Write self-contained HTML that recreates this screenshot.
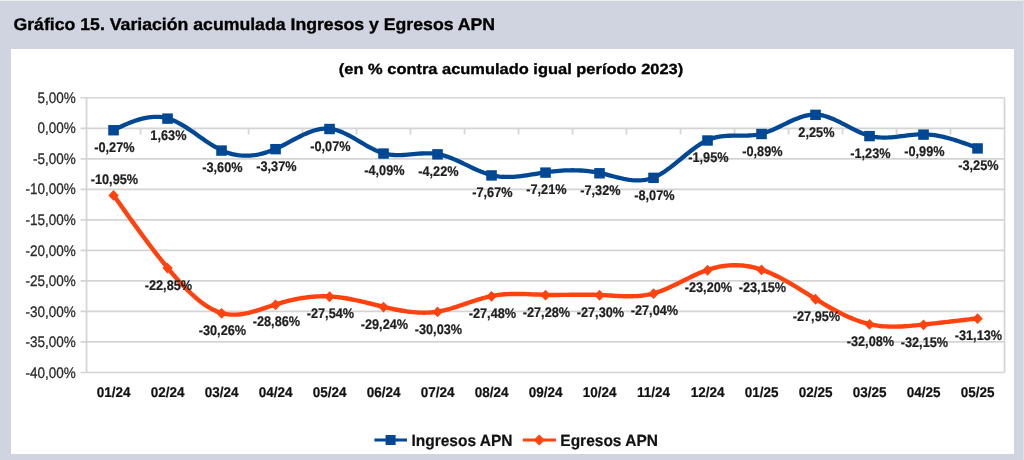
<!DOCTYPE html>
<html><head><meta charset="utf-8"><style>
html,body{margin:0;padding:0;}
body{width:1024px;height:460px;overflow:hidden;background:#cfd4e0;position:relative;font-family:"Liberation Sans",sans-serif;}
#top{position:absolute;left:0;top:0;width:1024px;height:1px;background:#ededee;}
#card{position:absolute;left:11px;top:49px;width:1003px;height:405px;background:#fff;}
svg{position:absolute;left:0;top:0;}
#wrap{position:absolute;left:0;top:0;width:1024px;height:460px;filter:blur(0.45px);}
text{text-rendering:geometricPrecision;}
#rs{position:absolute;left:1023px;top:0;width:1px;height:460px;background:#dde0e8;}
.t{font-weight:bold;fill:#000;stroke:#000;stroke-width:0.35px;}
.yl{font-size:13.5px;fill:#2a2a2a;stroke:#2a2a2a;stroke-width:0.25px;}
.xl{font-size:13.5px;font-weight:bold;fill:#111;stroke:#111;stroke-width:0.2px;}
.dl{font-size:12.75px;font-weight:bold;fill:#1e1e1e;stroke:#1e1e1e;stroke-width:0.2px;}
.lg{font-size:15.5px;font-weight:bold;fill:#111;stroke:#111;stroke-width:0.2px;}
</style></head><body>
<div id="wrap">
<div id="top"></div>
<div id="card"></div>
<div id="rs"></div>
<svg width="1024" height="460" viewBox="0 0 1024 460">
<text transform="translate(13.5,30.0) scale(1,0.96)" class="t" style="font-size:17.68px">Gráfico 15. Variación acumulada Ingresos y Egresos APN</text>
<text transform="translate(511,74.4) scale(1,0.9)" text-anchor="middle" class="t" style="font-size:16.45px">(en % contra acumulado igual período 2023)</text>
<line x1="80.54" y1="97.76" x2="1004.52" y2="97.76" stroke="#d4d4d4" stroke-width="1.7"/>
<text transform="translate(75.7,102.66) scale(1,1.13)" text-anchor="end" class="yl">5,00%</text>
<line x1="80.54" y1="128.29" x2="1004.52" y2="128.29" stroke="#d4d4d4" stroke-width="1.7"/>
<text transform="translate(75.7,133.26) scale(1,1.13)" text-anchor="end" class="yl">0,00%</text>
<line x1="80.54" y1="158.81" x2="1004.52" y2="158.81" stroke="#d4d4d4" stroke-width="1.7"/>
<text transform="translate(75.7,163.86) scale(1,1.13)" text-anchor="end" class="yl">-5,00%</text>
<line x1="80.54" y1="189.34" x2="1004.52" y2="189.34" stroke="#d4d4d4" stroke-width="1.7"/>
<text transform="translate(75.7,194.46) scale(1,1.13)" text-anchor="end" class="yl">-10,00%</text>
<line x1="80.54" y1="219.87" x2="1004.52" y2="219.87" stroke="#d4d4d4" stroke-width="1.7"/>
<text transform="translate(75.7,225.06) scale(1,1.13)" text-anchor="end" class="yl">-15,00%</text>
<line x1="80.54" y1="250.39" x2="1004.52" y2="250.39" stroke="#d4d4d4" stroke-width="1.7"/>
<text transform="translate(75.7,255.66) scale(1,1.13)" text-anchor="end" class="yl">-20,00%</text>
<line x1="80.54" y1="280.92" x2="1004.52" y2="280.92" stroke="#d4d4d4" stroke-width="1.7"/>
<text transform="translate(75.7,286.26) scale(1,1.13)" text-anchor="end" class="yl">-25,00%</text>
<line x1="80.54" y1="311.45" x2="1004.52" y2="311.45" stroke="#d4d4d4" stroke-width="1.7"/>
<text transform="translate(75.7,316.86) scale(1,1.13)" text-anchor="end" class="yl">-30,00%</text>
<line x1="80.54" y1="341.97" x2="1004.52" y2="341.97" stroke="#d4d4d4" stroke-width="1.7"/>
<text transform="translate(75.7,347.46) scale(1,1.13)" text-anchor="end" class="yl">-35,00%</text>
<line x1="80.54" y1="372.50" x2="1004.52" y2="372.50" stroke="#d4d4d4" stroke-width="1.7"/>
<text transform="translate(75.7,378.06) scale(1,1.13)" text-anchor="end" class="yl">-40,00%</text>
<line x1="1004.52" y1="97.76" x2="1004.52" y2="372.50" stroke="#d4d4d4" stroke-width="1.7"/>
<line x1="86.54" y1="97.76" x2="86.54" y2="372.50" stroke="#d4d4d4" stroke-width="1.7"/>
<line x1="140.54" y1="128.29" x2="140.54" y2="134.49" stroke="#d4d4d4" stroke-width="1.7"/>
<line x1="194.54" y1="128.29" x2="194.54" y2="134.49" stroke="#d4d4d4" stroke-width="1.7"/>
<line x1="248.54" y1="128.29" x2="248.54" y2="134.49" stroke="#d4d4d4" stroke-width="1.7"/>
<line x1="302.54" y1="128.29" x2="302.54" y2="134.49" stroke="#d4d4d4" stroke-width="1.7"/>
<line x1="356.53" y1="128.29" x2="356.53" y2="134.49" stroke="#d4d4d4" stroke-width="1.7"/>
<line x1="410.53" y1="128.29" x2="410.53" y2="134.49" stroke="#d4d4d4" stroke-width="1.7"/>
<line x1="464.53" y1="128.29" x2="464.53" y2="134.49" stroke="#d4d4d4" stroke-width="1.7"/>
<line x1="518.53" y1="128.29" x2="518.53" y2="134.49" stroke="#d4d4d4" stroke-width="1.7"/>
<line x1="572.53" y1="128.29" x2="572.53" y2="134.49" stroke="#d4d4d4" stroke-width="1.7"/>
<line x1="626.53" y1="128.29" x2="626.53" y2="134.49" stroke="#d4d4d4" stroke-width="1.7"/>
<line x1="680.53" y1="128.29" x2="680.53" y2="134.49" stroke="#d4d4d4" stroke-width="1.7"/>
<line x1="734.53" y1="128.29" x2="734.53" y2="134.49" stroke="#d4d4d4" stroke-width="1.7"/>
<line x1="788.52" y1="128.29" x2="788.52" y2="134.49" stroke="#d4d4d4" stroke-width="1.7"/>
<line x1="842.52" y1="128.29" x2="842.52" y2="134.49" stroke="#d4d4d4" stroke-width="1.7"/>
<line x1="896.52" y1="128.29" x2="896.52" y2="134.49" stroke="#d4d4d4" stroke-width="1.7"/>
<line x1="950.52" y1="128.29" x2="950.52" y2="134.49" stroke="#d4d4d4" stroke-width="1.7"/>
<text transform="translate(113.54,396.9) scale(1,1.04)" text-anchor="middle" class="xl">01/24</text>
<text transform="translate(167.54,396.9) scale(1,1.04)" text-anchor="middle" class="xl">02/24</text>
<text transform="translate(221.54,396.9) scale(1,1.04)" text-anchor="middle" class="xl">03/24</text>
<text transform="translate(275.54,396.9) scale(1,1.04)" text-anchor="middle" class="xl">04/24</text>
<text transform="translate(329.53,396.9) scale(1,1.04)" text-anchor="middle" class="xl">05/24</text>
<text transform="translate(383.53,396.9) scale(1,1.04)" text-anchor="middle" class="xl">06/24</text>
<text transform="translate(437.53,396.9) scale(1,1.04)" text-anchor="middle" class="xl">07/24</text>
<text transform="translate(491.53,396.9) scale(1,1.04)" text-anchor="middle" class="xl">08/24</text>
<text transform="translate(545.53,396.9) scale(1,1.04)" text-anchor="middle" class="xl">09/24</text>
<text transform="translate(599.53,396.9) scale(1,1.04)" text-anchor="middle" class="xl">10/24</text>
<text transform="translate(653.53,396.9) scale(1,1.04)" text-anchor="middle" class="xl">11/24</text>
<text transform="translate(707.53,396.9) scale(1,1.04)" text-anchor="middle" class="xl">12/24</text>
<text transform="translate(761.53,396.9) scale(1,1.04)" text-anchor="middle" class="xl">01/25</text>
<text transform="translate(815.52,396.9) scale(1,1.04)" text-anchor="middle" class="xl">02/25</text>
<text transform="translate(869.52,396.9) scale(1,1.04)" text-anchor="middle" class="xl">03/25</text>
<text transform="translate(923.52,396.9) scale(1,1.04)" text-anchor="middle" class="xl">04/25</text>
<text transform="translate(977.52,396.9) scale(1,1.04)" text-anchor="middle" class="xl">05/25</text>
<path d="M113.54,195.14 L116.24,198.95 L118.94,202.76 L121.64,206.56 L124.34,210.36 L127.04,214.14 L129.74,217.91 L132.44,221.66 L135.14,225.40 L137.84,229.11 L140.54,232.80 L143.24,236.47 L145.94,240.10 L148.64,243.70 L151.34,247.27 L154.04,250.80 L156.74,254.29 L159.44,257.74 L162.14,261.14 L164.84,264.49 L167.54,267.79 L170.24,271.04 L172.94,274.23 L175.64,277.35 L178.34,280.39 L181.04,283.35 L183.74,286.23 L186.44,289.00 L189.14,291.68 L191.84,294.24 L194.54,296.68 L197.24,299.00 L199.94,301.18 L202.64,303.23 L205.34,305.13 L208.04,306.87 L210.74,308.46 L213.44,309.87 L216.14,311.11 L218.84,312.17 L221.54,313.03 L224.24,313.71 L226.94,314.19 L229.64,314.51 L232.34,314.66 L235.04,314.66 L237.74,314.52 L240.44,314.25 L243.14,313.87 L245.84,313.39 L248.54,312.81 L251.24,312.15 L253.94,311.42 L256.64,310.63 L259.34,309.80 L262.04,308.93 L264.74,308.04 L267.44,307.14 L270.14,306.24 L272.84,305.35 L275.54,304.49 L278.24,303.65 L280.94,302.86 L283.64,302.10 L286.34,301.38 L289.04,300.71 L291.74,300.07 L294.44,299.48 L297.14,298.94 L299.84,298.44 L302.54,297.99 L305.24,297.58 L307.94,297.23 L310.64,296.93 L313.34,296.69 L316.04,296.50 L318.73,296.37 L321.43,296.29 L324.13,296.28 L326.83,296.32 L329.53,296.43 L332.23,296.60 L334.93,296.83 L337.63,297.11 L340.33,297.45 L343.03,297.84 L345.73,298.27 L348.43,298.74 L351.13,299.25 L353.83,299.79 L356.53,300.36 L359.23,300.95 L361.93,301.57 L364.63,302.20 L367.33,302.85 L370.03,303.51 L372.73,304.17 L375.43,304.84 L378.13,305.50 L380.83,306.16 L383.53,306.81 L386.23,307.44 L388.93,308.06 L391.63,308.66 L394.33,309.23 L397.03,309.77 L399.73,310.28 L402.43,310.75 L405.13,311.18 L407.83,311.56 L410.53,311.90 L413.23,312.18 L415.93,312.40 L418.63,312.56 L421.33,312.66 L424.03,312.68 L426.73,312.64 L429.43,312.51 L432.13,312.31 L434.83,312.01 L437.53,311.63 L440.23,311.16 L442.93,310.60 L445.63,309.96 L448.33,309.26 L451.03,308.50 L453.73,307.68 L456.43,306.83 L459.13,305.95 L461.83,305.04 L464.53,304.12 L467.23,303.19 L469.93,302.27 L472.63,301.36 L475.33,300.47 L478.03,299.61 L480.73,298.79 L483.43,298.01 L486.13,297.29 L488.83,296.64 L491.53,296.06 L494.23,295.56 L496.93,295.14 L499.63,294.79 L502.33,294.51 L505.03,294.29 L507.73,294.13 L510.43,294.02 L513.13,293.95 L515.83,293.93 L518.53,293.94 L521.23,293.98 L523.93,294.05 L526.63,294.13 L529.33,294.23 L532.03,294.34 L534.73,294.45 L537.43,294.57 L540.13,294.67 L542.83,294.76 L545.53,294.84 L548.23,294.89 L550.93,294.93 L553.63,294.95 L556.33,294.95 L559.03,294.94 L561.73,294.92 L564.43,294.89 L567.13,294.86 L569.83,294.82 L572.53,294.78 L575.23,294.75 L577.93,294.72 L580.63,294.70 L583.33,294.69 L586.03,294.69 L588.73,294.70 L591.43,294.74 L594.13,294.79 L596.83,294.86 L599.53,294.96 L602.23,295.09 L604.93,295.23 L607.63,295.39 L610.33,295.55 L613.03,295.72 L615.73,295.87 L618.43,296.01 L621.13,296.13 L623.83,296.23 L626.53,296.28 L629.23,296.30 L631.93,296.26 L634.63,296.17 L637.33,296.01 L640.03,295.79 L642.73,295.49 L645.43,295.10 L648.13,294.63 L650.83,294.05 L653.53,293.37 L656.23,292.59 L658.93,291.70 L661.63,290.72 L664.33,289.66 L667.03,288.52 L669.73,287.33 L672.43,286.09 L675.13,284.80 L677.83,283.49 L680.53,282.15 L683.23,280.81 L685.93,279.46 L688.63,278.13 L691.33,276.82 L694.03,275.53 L696.73,274.29 L699.43,273.10 L702.13,271.97 L704.83,270.91 L707.53,269.93 L710.23,269.04 L712.93,268.25 L715.63,267.54 L718.33,266.93 L721.03,266.41 L723.73,265.98 L726.43,265.64 L729.13,265.40 L731.83,265.24 L734.53,265.18 L737.23,265.21 L739.93,265.33 L742.63,265.55 L745.33,265.85 L748.03,266.25 L750.73,266.74 L753.43,267.33 L756.13,268.00 L758.83,268.77 L761.53,269.63 L764.23,270.58 L766.93,271.61 L769.63,272.73 L772.33,273.92 L775.03,275.19 L777.72,276.52 L780.42,277.91 L783.12,279.35 L785.82,280.85 L788.52,282.38 L791.22,283.96 L793.92,285.56 L796.62,287.19 L799.32,288.85 L802.02,290.52 L804.72,292.20 L807.42,293.89 L810.12,295.58 L812.82,297.26 L815.52,298.93 L818.22,300.59 L820.92,302.22 L823.62,303.83 L826.32,305.42 L829.02,306.97 L831.72,308.49 L834.42,309.97 L837.12,311.41 L839.82,312.80 L842.52,314.15 L845.22,315.44 L847.92,316.68 L850.62,317.86 L853.32,318.98 L856.02,320.03 L858.72,321.00 L861.42,321.91 L864.12,322.74 L866.82,323.48 L869.52,324.15 L872.22,324.72 L874.92,325.21 L877.62,325.62 L880.32,325.96 L883.02,326.23 L885.72,326.42 L888.42,326.56 L891.12,326.64 L893.82,326.66 L896.52,326.64 L899.22,326.56 L901.92,326.45 L904.62,326.30 L907.32,326.12 L910.02,325.91 L912.72,325.67 L915.42,325.42 L918.12,325.15 L920.82,324.86 L923.52,324.57 L926.22,324.28 L928.92,323.98 L931.62,323.68 L934.32,323.38 L937.02,323.08 L939.72,322.77 L942.42,322.47 L945.12,322.16 L947.82,321.85 L950.52,321.53 L953.22,321.22 L955.92,320.90 L958.62,320.59 L961.32,320.27 L964.02,319.95 L966.72,319.63 L969.42,319.31 L972.12,318.99 L974.82,318.67 L977.52,318.35" fill="none" stroke="#ff420e" stroke-width="4.4" stroke-linejoin="round"/>
<path d="M113.54,129.94 L116.24,128.69 L118.94,127.45 L121.64,126.23 L124.34,125.04 L127.04,123.89 L129.74,122.79 L132.44,121.75 L135.14,120.78 L137.84,119.90 L140.54,119.10 L143.24,118.41 L145.94,117.82 L148.64,117.36 L151.34,117.02 L154.04,116.83 L156.74,116.79 L159.44,116.91 L162.14,117.20 L164.84,117.67 L167.54,118.33 L170.24,119.20 L172.94,120.24 L175.64,121.45 L178.34,122.81 L181.04,124.30 L183.74,125.90 L186.44,127.59 L189.14,129.37 L191.84,131.20 L194.54,133.08 L197.24,134.98 L199.94,136.89 L202.64,138.78 L205.34,140.65 L208.04,142.47 L210.74,144.23 L213.44,145.91 L216.14,147.48 L218.84,148.94 L221.54,150.27 L224.24,151.44 L226.94,152.47 L229.64,153.35 L232.34,154.08 L235.04,154.68 L237.74,155.14 L240.44,155.46 L243.14,155.66 L245.84,155.72 L248.54,155.66 L251.24,155.48 L253.94,155.18 L256.64,154.77 L259.34,154.24 L262.04,153.60 L264.74,152.85 L267.44,152.00 L270.14,151.05 L272.84,150.00 L275.54,148.86 L278.24,147.63 L280.94,146.32 L283.64,144.96 L286.34,143.55 L289.04,142.12 L291.74,140.67 L294.44,139.24 L297.14,137.83 L299.84,136.46 L302.54,135.14 L305.24,133.90 L307.94,132.75 L310.64,131.70 L313.34,130.77 L316.04,129.99 L318.73,129.36 L321.43,128.90 L324.13,128.63 L326.83,128.56 L329.53,128.71 L332.23,129.10 L334.93,129.70 L337.63,130.50 L340.33,131.47 L343.03,132.59 L345.73,133.84 L348.43,135.21 L351.13,136.66 L353.83,138.18 L356.53,139.74 L359.23,141.33 L361.93,142.93 L364.63,144.50 L367.33,146.04 L370.03,147.52 L372.73,148.91 L375.43,150.21 L378.13,151.38 L380.83,152.40 L383.53,153.26 L386.23,153.93 L388.93,154.44 L391.63,154.79 L394.33,155.01 L397.03,155.11 L399.73,155.10 L402.43,155.02 L405.13,154.86 L407.83,154.66 L410.53,154.42 L413.23,154.17 L415.93,153.92 L418.63,153.68 L421.33,153.49 L424.03,153.35 L426.73,153.28 L429.43,153.30 L432.13,153.42 L434.83,153.67 L437.53,154.05 L440.23,154.59 L442.93,155.27 L445.63,156.08 L448.33,157.00 L451.03,158.02 L453.73,159.12 L456.43,160.29 L459.13,161.52 L461.83,162.78 L464.53,164.07 L467.23,165.37 L469.93,166.67 L472.63,167.95 L475.33,169.19 L478.03,170.38 L480.73,171.51 L483.43,172.57 L486.13,173.53 L488.83,174.38 L491.53,175.11 L494.23,175.71 L496.93,176.18 L499.63,176.54 L502.33,176.77 L505.03,176.91 L507.73,176.95 L510.43,176.91 L513.13,176.79 L515.83,176.59 L518.53,176.34 L521.23,176.04 L523.93,175.69 L526.63,175.30 L529.33,174.89 L532.03,174.46 L534.73,174.01 L537.43,173.57 L540.13,173.13 L542.83,172.71 L545.53,172.31 L548.23,171.94 L550.93,171.60 L553.63,171.29 L556.33,171.03 L559.03,170.80 L561.73,170.61 L564.43,170.46 L567.13,170.35 L569.83,170.29 L572.53,170.27 L575.23,170.30 L577.93,170.38 L580.63,170.51 L583.33,170.70 L586.03,170.93 L588.73,171.23 L591.43,171.57 L594.13,171.98 L596.83,172.45 L599.53,172.98 L602.23,173.57 L604.93,174.21 L607.63,174.88 L610.33,175.57 L613.03,176.27 L615.73,176.96 L618.43,177.63 L621.13,178.25 L623.83,178.83 L626.53,179.34 L629.23,179.76 L631.93,180.10 L634.63,180.32 L637.33,180.41 L640.03,180.37 L642.73,180.17 L645.43,179.81 L648.13,179.26 L650.83,178.51 L653.53,177.56 L656.23,176.38 L658.93,175.00 L661.63,173.43 L664.33,171.71 L667.03,169.85 L669.73,167.87 L672.43,165.80 L675.13,163.65 L677.83,161.45 L680.53,159.22 L683.23,156.99 L685.93,154.77 L688.63,152.59 L691.33,150.47 L694.03,148.43 L696.73,146.49 L699.43,144.67 L702.13,143.00 L704.83,141.50 L707.53,140.19 L710.23,139.09 L712.93,138.18 L715.63,137.44 L718.33,136.86 L721.03,136.42 L723.73,136.10 L726.43,135.87 L729.13,135.73 L731.83,135.66 L734.53,135.63 L737.23,135.62 L739.93,135.63 L742.63,135.62 L745.33,135.59 L748.03,135.50 L750.73,135.35 L753.43,135.12 L756.13,134.78 L758.83,134.32 L761.53,133.72 L764.23,132.97 L766.93,132.08 L769.63,131.06 L772.33,129.95 L775.03,128.76 L777.72,127.51 L780.42,126.21 L783.12,124.89 L785.82,123.58 L788.52,122.28 L791.22,121.01 L793.92,119.80 L796.62,118.67 L799.32,117.64 L802.02,116.72 L804.72,115.94 L807.42,115.31 L810.12,114.86 L812.82,114.60 L815.52,114.55 L818.22,114.73 L820.92,115.12 L823.62,115.71 L826.32,116.47 L829.02,117.39 L831.72,118.43 L834.42,119.59 L837.12,120.84 L839.82,122.17 L842.52,123.55 L845.22,124.96 L847.92,126.38 L850.62,127.79 L853.32,129.18 L856.02,130.52 L858.72,131.79 L861.42,132.98 L864.12,134.05 L866.82,135.00 L869.52,135.80 L872.22,136.43 L874.92,136.91 L877.62,137.25 L880.32,137.46 L883.02,137.56 L885.72,137.56 L888.42,137.46 L891.12,137.30 L893.82,137.07 L896.52,136.79 L899.22,136.48 L901.92,136.15 L904.62,135.81 L907.32,135.47 L910.02,135.16 L912.72,134.87 L915.42,134.63 L918.12,134.46 L920.82,134.35 L923.52,134.33 L926.22,134.41 L928.92,134.58 L931.62,134.84 L934.32,135.18 L937.02,135.61 L939.72,136.11 L942.42,136.67 L945.12,137.31 L947.82,138.00 L950.52,138.75 L953.22,139.54 L955.92,140.38 L958.62,141.27 L961.32,142.18 L964.02,143.13 L966.72,144.10 L969.42,145.09 L972.12,146.09 L974.82,147.11 L977.52,148.13" fill="none" stroke="#004894" stroke-width="4.3" stroke-linejoin="round"/>
<rect x="108.24" y="125.04" width="10.6" height="10.4" fill="#004894"/>
<path d="M113.54,190.04 L118.74,195.44 L113.54,200.84 L108.34,195.44Z" fill="#ff420e"/>
<rect x="162.24" y="113.43" width="10.6" height="10.4" fill="#004894"/>
<path d="M167.54,262.69 L172.74,268.09 L167.54,273.49 L162.34,268.09Z" fill="#ff420e"/>
<rect x="216.24" y="145.37" width="10.6" height="10.4" fill="#004894"/>
<path d="M221.54,307.93 L226.74,313.33 L221.54,318.73 L216.34,313.33Z" fill="#ff420e"/>
<rect x="270.24" y="143.96" width="10.6" height="10.4" fill="#004894"/>
<path d="M275.54,299.39 L280.74,304.79 L275.54,310.19 L270.34,304.79Z" fill="#ff420e"/>
<rect x="324.23" y="123.81" width="10.6" height="10.4" fill="#004894"/>
<path d="M329.53,291.33 L334.73,296.73 L329.53,302.13 L324.33,296.73Z" fill="#ff420e"/>
<rect x="378.23" y="148.36" width="10.6" height="10.4" fill="#004894"/>
<path d="M383.53,301.71 L388.73,307.11 L383.53,312.51 L378.33,307.11Z" fill="#ff420e"/>
<rect x="432.23" y="149.15" width="10.6" height="10.4" fill="#004894"/>
<path d="M437.53,306.53 L442.73,311.93 L437.53,317.33 L432.33,311.93Z" fill="#ff420e"/>
<rect x="486.23" y="170.21" width="10.6" height="10.4" fill="#004894"/>
<path d="M491.53,290.96 L496.73,296.36 L491.53,301.76 L486.33,296.36Z" fill="#ff420e"/>
<rect x="540.23" y="167.41" width="10.6" height="10.4" fill="#004894"/>
<path d="M545.53,289.74 L550.73,295.14 L545.53,300.54 L540.33,295.14Z" fill="#ff420e"/>
<rect x="594.23" y="168.08" width="10.6" height="10.4" fill="#004894"/>
<path d="M599.53,289.86 L604.73,295.26 L599.53,300.66 L594.33,295.26Z" fill="#ff420e"/>
<rect x="648.23" y="172.66" width="10.6" height="10.4" fill="#004894"/>
<path d="M653.53,288.27 L658.73,293.67 L653.53,299.07 L648.33,293.67Z" fill="#ff420e"/>
<rect x="702.23" y="135.29" width="10.6" height="10.4" fill="#004894"/>
<path d="M707.53,264.83 L712.73,270.23 L707.53,275.63 L702.33,270.23Z" fill="#ff420e"/>
<rect x="756.23" y="128.82" width="10.6" height="10.4" fill="#004894"/>
<path d="M761.53,264.53 L766.73,269.93 L761.53,275.33 L756.33,269.93Z" fill="#ff420e"/>
<rect x="810.22" y="109.65" width="10.6" height="10.4" fill="#004894"/>
<path d="M815.52,293.83 L820.72,299.23 L815.52,304.63 L810.32,299.23Z" fill="#ff420e"/>
<rect x="864.22" y="130.90" width="10.6" height="10.4" fill="#004894"/>
<path d="M869.52,319.05 L874.72,324.45 L869.52,329.85 L864.32,324.45Z" fill="#ff420e"/>
<rect x="918.22" y="129.43" width="10.6" height="10.4" fill="#004894"/>
<path d="M923.52,319.47 L928.72,324.87 L923.52,330.27 L918.32,324.87Z" fill="#ff420e"/>
<rect x="972.22" y="143.23" width="10.6" height="10.4" fill="#004894"/>
<path d="M977.52,313.25 L982.72,318.65 L977.52,324.05 L972.32,318.65Z" fill="#ff420e"/>
<text transform="translate(114.44,151.94) scale(1,1.09)" text-anchor="middle" class="dl">-0,27%</text>
<text transform="translate(114.44,183.64) scale(1,1.09)" text-anchor="middle" class="dl">-10,95%</text>
<text transform="translate(168.44,140.33) scale(1,1.09)" text-anchor="middle" class="dl">1,63%</text>
<text transform="translate(168.44,289.79) scale(1,1.09)" text-anchor="middle" class="dl">-22,85%</text>
<text transform="translate(222.44,172.27) scale(1,1.09)" text-anchor="middle" class="dl">-3,60%</text>
<text transform="translate(222.44,335.03) scale(1,1.09)" text-anchor="middle" class="dl">-30,26%</text>
<text transform="translate(276.44,170.86) scale(1,1.09)" text-anchor="middle" class="dl">-3,37%</text>
<text transform="translate(276.44,326.49) scale(1,1.09)" text-anchor="middle" class="dl">-28,86%</text>
<text transform="translate(330.43,150.71) scale(1,1.09)" text-anchor="middle" class="dl">-0,07%</text>
<text transform="translate(330.43,318.43) scale(1,1.09)" text-anchor="middle" class="dl">-27,54%</text>
<text transform="translate(384.43,175.26) scale(1,1.09)" text-anchor="middle" class="dl">-4,09%</text>
<text transform="translate(384.43,328.81) scale(1,1.09)" text-anchor="middle" class="dl">-29,24%</text>
<text transform="translate(438.43,176.05) scale(1,1.09)" text-anchor="middle" class="dl">-4,22%</text>
<text transform="translate(438.43,333.63) scale(1,1.09)" text-anchor="middle" class="dl">-30,03%</text>
<text transform="translate(492.43,197.11) scale(1,1.09)" text-anchor="middle" class="dl">-7,67%</text>
<text transform="translate(492.43,318.06) scale(1,1.09)" text-anchor="middle" class="dl">-27,48%</text>
<text transform="translate(546.43,194.31) scale(1,1.09)" text-anchor="middle" class="dl">-7,21%</text>
<text transform="translate(546.43,316.84) scale(1,1.09)" text-anchor="middle" class="dl">-27,28%</text>
<text transform="translate(600.43,194.98) scale(1,1.09)" text-anchor="middle" class="dl">-7,32%</text>
<text transform="translate(600.43,316.96) scale(1,1.09)" text-anchor="middle" class="dl">-27,30%</text>
<text transform="translate(654.43,199.56) scale(1,1.09)" text-anchor="middle" class="dl">-8,07%</text>
<text transform="translate(654.43,315.37) scale(1,1.09)" text-anchor="middle" class="dl">-27,04%</text>
<text transform="translate(708.43,162.19) scale(1,1.09)" text-anchor="middle" class="dl">-1,95%</text>
<text transform="translate(708.43,291.93) scale(1,1.09)" text-anchor="middle" class="dl">-23,20%</text>
<text transform="translate(762.43,155.72) scale(1,1.09)" text-anchor="middle" class="dl">-0,89%</text>
<text transform="translate(762.43,291.63) scale(1,1.09)" text-anchor="middle" class="dl">-23,15%</text>
<text transform="translate(816.42,136.55) scale(1,1.09)" text-anchor="middle" class="dl">2,25%</text>
<text transform="translate(816.42,320.93) scale(1,1.09)" text-anchor="middle" class="dl">-27,95%</text>
<text transform="translate(870.42,157.80) scale(1,1.09)" text-anchor="middle" class="dl">-1,23%</text>
<text transform="translate(870.42,346.15) scale(1,1.09)" text-anchor="middle" class="dl">-32,08%</text>
<text transform="translate(924.42,156.33) scale(1,1.09)" text-anchor="middle" class="dl">-0,99%</text>
<text transform="translate(924.42,346.57) scale(1,1.09)" text-anchor="middle" class="dl">-32,15%</text>
<text transform="translate(978.42,170.13) scale(1,1.09)" text-anchor="middle" class="dl">-3,25%</text>
<text transform="translate(978.42,340.35) scale(1,1.09)" text-anchor="middle" class="dl">-31,13%</text>
<line x1="374.4" y1="440" x2="407" y2="440" stroke="#004894" stroke-width="3"/>
<rect x="385.6" y="435" width="10" height="10" fill="#004894"/>
<text transform="translate(411.4,445.8) scale(1,1.05)" class="lg">Ingresos APN</text>
<line x1="522.8" y1="440" x2="555.9" y2="440" stroke="#ff420e" stroke-width="3"/>
<path d="M539.2,434.5 L544.7,440 L539.2,445.5 L533.7,440Z" fill="#ff420e"/>
<text transform="translate(560.3,445.8) scale(1,1.05)" class="lg">Egresos APN</text>
</svg>
</div>
</body></html>
